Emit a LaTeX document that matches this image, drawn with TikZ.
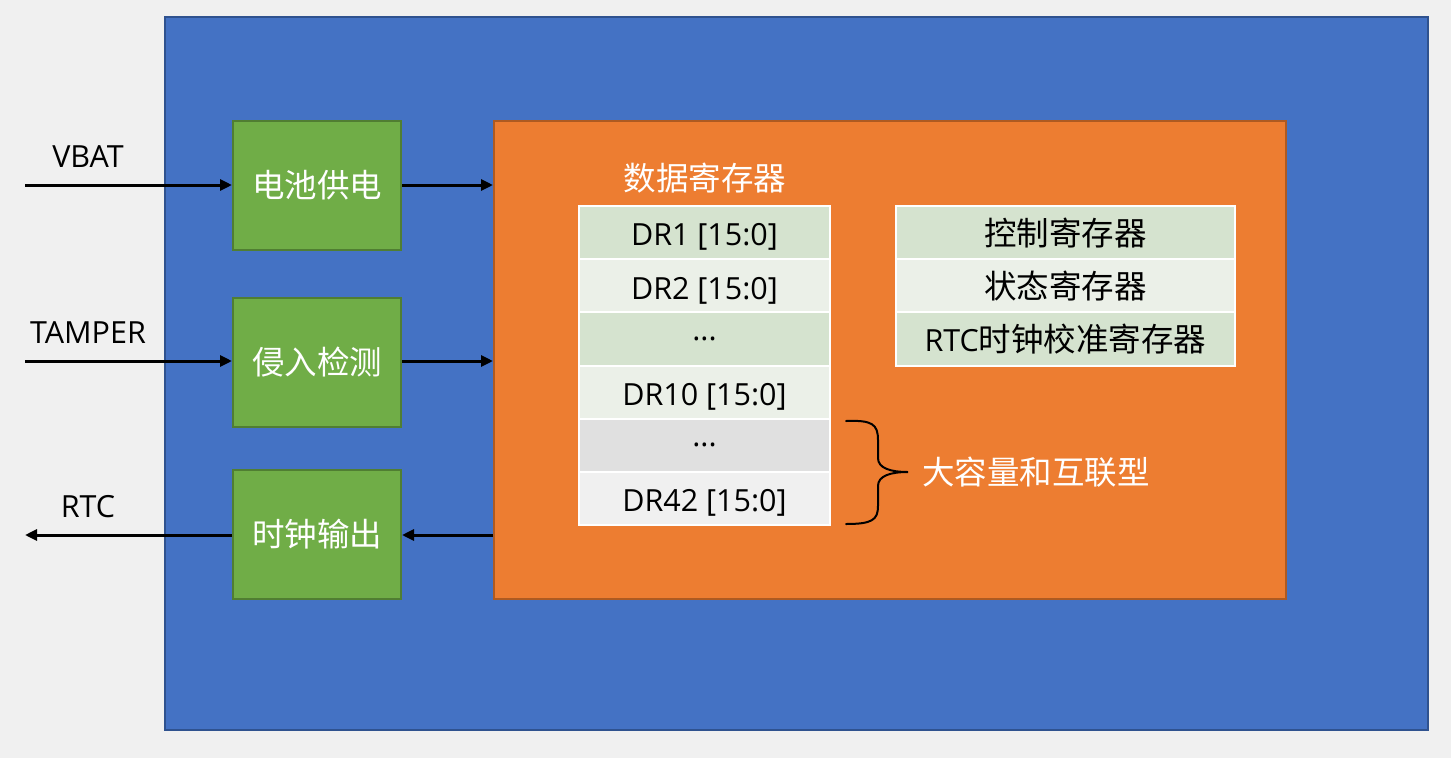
\documentclass[tikz,border=0pt]{standalone}
\usepackage{fontspec}
\setmainfont{Open Sans}
\newfontfamily\cjk{Noto Sans CJK SC}
\usetikzlibrary{arrows.meta}
\definecolor{bg}{HTML}{F0F0F0}
\definecolor{blueF}{HTML}{4472C4}
\definecolor{blueD}{HTML}{2F528F}
\definecolor{greenF}{HTML}{70AD47}
\definecolor{greenD}{HTML}{507E32}
\definecolor{orangeF}{HTML}{ED7D31}
\definecolor{orangeD}{HTML}{AE5A21}
\definecolor{cellA}{HTML}{D5E3CF}
\definecolor{cellB}{HTML}{EBF0E8}
\definecolor{cellC}{HTML}{E0E0E0}
\definecolor{cellD}{HTML}{F0F0F0}
\newcommand{\zh}[1]{{\cjk\fontsize{32.5}{38}\selectfont #1}}
\tikzset{
  lat/.style={font=\fontsize{30.5}{36}\selectfont},
  greenbox/.style={draw=greenD, fill=greenF, line width=2pt, minimum width=168pt, minimum height=129pt, text=white, inner sep=0pt},
  cell/.style={draw=white, line width=2pt, minimum height=53.2pt, inner sep=0pt, text=black, lat},
  tcell/.style={cell, text height=26.5pt, text depth=0pt},
  conn/.style={line width=3pt, -{Triangle[length=12pt,width=11pt]}},
  lbl/.style={text=black, lat, inner sep=0pt},
}
\begin{document}
\begin{tikzpicture}[x=1pt,y=-1pt]
\fill[bg] (0,0) rectangle (1451,758);
\useasboundingbox (0,0) rectangle (1451,758);
\node[draw=blueD, fill=blueF, line width=2pt, minimum width=1263pt, minimum height=713pt, inner sep=0pt] (chip) at (796.5,373.5) {};
\node[draw=orangeD, fill=orangeF, line width=2pt, minimum width=792pt, minimum height=478pt, inner sep=0pt] (core) at (890,360) {};
\node[greenbox] (bat) at (317,185.5) {\zh{电池供电}};
\node[greenbox] (tam) at (317,362.5) {\zh{侵入检测}};
\node[greenbox] (clk) at (317,534.5) {\zh{时钟输出}};
% inputs
\coordinate (vin) at (25,185);
\coordinate (tin) at (25,361);
\coordinate (rout) at (25,535);
\node[lbl] (vbatl) at (88,157) {VBAT};
\node[lbl] (taml) at (88,333) {TAMPER};
\node[lbl] (rtcl) at (88,507) {RTC};
\draw[conn] (vin) -- (vin -| bat.west);
\draw[conn] (tin) -- (tin -| tam.west);
\draw[conn] (clk.west |- rout) -- (rout);
\draw[conn] (bat.east |- vin) -- (vin -| core.west);
\draw[conn] (tam.east |- tin) -- (tin -| core.west);
\draw[conn] (rout -| core.west) -- (rout -| clk.east);
% data registers
\node[text=white, inner sep=0pt] (dtitle) at (705,178) {\zh{数据寄存器}};
\node[tcell, fill=cellA, minimum width=251pt] (d1) at (704.5,232.6) {DR1 [15:0]};
\node[tcell, fill=cellB, minimum width=251pt] (d2) at (704.5,285.8) {DR2 [15:0]};
\node[cell, fill=cellA, minimum width=251pt] (d3) at (704.5,339) {...};
\node[tcell, fill=cellB, minimum width=251pt] (d4) at (704.5,392.2) {DR10 [15:0]};
\node[cell, fill=cellC, minimum width=251pt] (d5) at (704.5,445.4) {...};
\node[tcell, fill=cellD, minimum width=251pt] (d6) at (704.5,498.6) {DR42 [15:0]};
% control registers
\node[cell, fill=cellA, minimum width=339pt] (c1) at (1065.5,232.6) {\zh{控制寄存器}};
\node[cell, fill=cellB, minimum width=339pt] (c2) at (1065.5,285.8) {\zh{状态寄存器}};
\node[cell, fill=cellA, minimum width=339pt] (c3) at (1065.5,339) {RTC\zh{时钟校准寄存器}};
% brace
\coordinate (btop) at (846,421);
\coordinate (bbot) at (846,524);
\coordinate (btip) at (908,472);
\draw[line width=2pt, line cap=round] (btop) .. controls (872,420) and (878,424) .. (878,440) -- (878,458) .. controls (878,468) and (890,472) .. (btip) .. controls (890,472) and (878,476) .. (878,486) -- (878,506) .. controls (878,520) and (872,524) .. (bbot);
\node[text=white, anchor=west, inner sep=0pt] (big) at (922,472) {\zh{大容量和互联型}};
\end{tikzpicture}
\end{document}
